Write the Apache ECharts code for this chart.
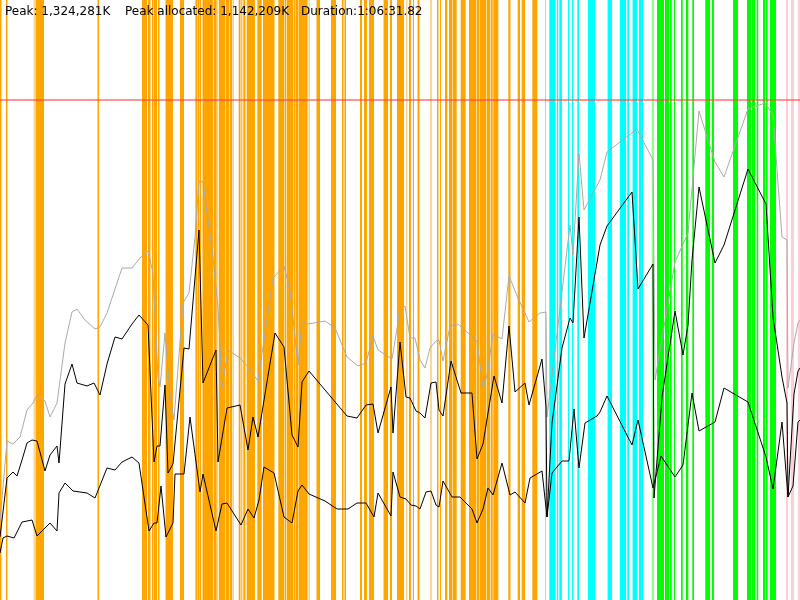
<!DOCTYPE html>
<html>
<head>
<meta charset="utf-8">
<script src="https://cdn.jsdelivr.net/npm/echarts/dist/echarts.min.js"></script>
<style>html,body{margin:0;padding:0;background:#fff}#c{width:800px;height:600px}</style>
</head>
<body>
<div id="c"></div>
<script>
// Header texts
var headerTexts = ["Peak: 1,324,281K", "Peak allocated: 1,142,209K", "Duration:1:06:31.82"];

// Threshold line (memory units of the plot)
var limitValue = 500;

// Event stripes: [start, end] on the time axis (0..800)
var orangeStripes = [[0,1.5],[6,7.5],[36,44],[97.5,99],[142,147],[148,150.5],[152,153.5],[154,157],[158,159.5],[166,173],[180,184],[195.5,197.5],[198,199.5],[200,201],[202.7,213],[213.6,216.7],[219,225],[225.6,229],[229.6,232],[232.7,233.5],[238.7,240.5],[241.3,242.3],[243.3,245.3],[246.7,255],[257.3,261.7],[263,274.5],[278.3,284],[284.6,286],[286.6,293],[293.6,295.5],[296,298],[298.5,307.5],[316.5,320],[331,336],[342,343.5],[344.5,346],[360,362],[364,367],[369,374],[384,388],[390,392],[397,404],[409,411],[413,414],[418,419.5],[437,438.5],[440,441],[445,447.3],[449,452],[452.6,456.7],[460.7,465.7],[469,476],[476.6,479],[479.6,486],[486.6,490],[490.7,492.7],[493.3,498.3],[508.3,510.5],[517.7,520],[521.7,525],[532.3,537.3]];
var lightOrangeStripes = [[33.5,36],[165,166],[195,195.5],[201.8,202.7],[217,218.5],[308.5,310],[383,384],[406,407.5],[417,418],[430,432]];
var cyanStripes = [[545.3,546],[549.3,555.5],[557,558.3],[559.3,562],[568,569],[572,573.3],[577.3,579],[588,595],[608,612],[620,626],[627.3,629],[633,637],[639,643]];
var lightCyanStripes = [[607,608],[632,633]];
var greenStripes = [[657,664],[665,669],[670,671.7],[674,675],[681,682.7],[686,688.3],[692.3,694],[705.3,710],[711.7,714],[733,738],[747,751],[751.6,755],[756.7,758.3],[763,765],[765.7,767.7],[770,776]];
var lightGreenStripes = [[651.7,654]];
var pinkStripes = [[786,788],[791,794],[798,800]];

// Series values: [time, memory]
var grayLine = [[0,78],[7,159],[13,156],[20,163],[27,190],[33,197],[37,205],[45,199],[50,183],[57,197],[65,257],[72,288],[77,291],[85,280],[95,271],[100,273],[107,287],[122,332],[132,332],[140,342],[148,349],[153,327],[158,223],[160,213],[165,267],[170,205],[174,180],[183,297],[189,307],[195,363],[199,419],[203,418],[213,343],[218,293],[222,212],[228,250],[240,242],[248,233],[258,219],[273,322],[284,334],[290,310],[298,235],[302,278],[308,276],[325,279],[335,272],[347,243],[358,234],[366,237],[373,264],[378,250],[392,241],[400,290],[405,294],[410,262],[415,262],[420,240],[425,232],[430,252],[436,259],[439,260],[443,239],[450,274],[458,276],[477,259],[483,212],[487,225],[493,266],[502,261],[509,324],[518,302],[529,278],[540,287],[546,288],[547,183],[570,375],[573,345],[579,447],[584,390],[600,420],[607,448],[637,471],[653,440],[655,220],[675,338],[688,367],[699,489],[715,438],[724,423],[748,491],[765,497],[773,485],[782,363],[787,360],[788,212],[794,257],[798,277],[800,280]];
var upperLine = [[0,63],[7,122],[13,128],[17,124],[22,140],[27,157],[32,160],[37,159],[45,129],[50,145],[57,154],[59,137],[65,216],[72,236],[77,217],[87,214],[94,217],[100,205],[107,236],[115,263],[122,261],[132,276],[139,285],[148,275],[154,138],[157,154],[160,154],[165,215],[168,127],[173,136],[184,252],[189,251],[199,370],[203,217],[216,250],[218,138],[227,192],[240,195],[248,150],[253,183],[258,163],[275,267],[284,253],[292,165],[298,153],[302,218],[309,229],[347,184],[357,182],[366,195],[373,196],[378,167],[391,213],[393,167],[400,258],[406,203],[410,202],[416,189],[420,187],[425,182],[431,217],[436,218],[439,190],[443,184],[451,239],[461,207],[472,207],[477,141],[483,156],[494,224],[502,197],[509,274],[515,208],[525,217],[529,195],[542,241],[546,193],[547,83],[552,177],[562,252],[570,282],[573,277],[579,383],[584,262],[600,355],[607,374],[632,408],[638,311],[653,336],[654,102],[662,203],[675,289],[683,245],[688,275],[692,340],[699,413],[715,337],[724,355],[748,431],[766,396],[773,283],[782,223],[787,197],[788,103],[794,206],[798,229],[800,232]];
var lowerLine = [[0,47],[3,62],[7,64],[14,62],[22,78],[32,80],[37,64],[50,77],[57,69],[59,107],[65,117],[73,109],[87,107],[95,102],[107,132],[115,130],[122,138],[132,143],[139,137],[149,69],[154,77],[157,77],[161,114],[166,63],[173,77],[175,126],[184,126],[190,183],[200,108],[203,126],[216,69],[222,96],[227,97],[241,75],[248,91],[254,82],[259,100],[264,133],[274,127],[284,83],[292,77],[298,109],[302,115],[309,106],[325,99],[337,91],[348,91],[357,97],[366,97],[374,83],[378,107],[391,84],[393,128],[400,103],[406,101],[411,95],[416,94],[420,91],[426,108],[431,109],[436,95],[439,93],[443,119],[452,103],[460,103],[472,91],[477,77],[483,91],[488,112],[493,105],[502,137],[510,105],[515,108],[525,97],[530,122],[542,129],[547,83],[552,127],[562,139],[569,139],[574,191],[579,132],[585,177],[597,184],[600,188],[607,204],[632,155],[638,180],[653,112],[661,144],[675,123],[683,135],[692,207],[699,169],[715,178],[724,212],[748,198],[766,143],[773,111],[782,178],[788,103],[793,114],[798,178],[800,180]];

var X_MAX = 800, Y_MAX = 600;
var headerFont = '12px "DejaVu Sans", Verdana, sans-serif';

function stripeSeries(data, color, opacity) {
  return {
    type: 'custom',
    silent: true,
    z: 1,
    encode: { x: [0, 1] },
    data: data,
    renderItem: function (params, api) {
      var a = api.coord([api.value(0), Y_MAX]);
      var b = api.coord([api.value(1), 0]);
      return { type: 'rect', shape: { x: a[0], y: a[1], width: b[0] - a[0], height: b[1] - a[1] },
               style: { fill: color, opacity: opacity } };
    }
  };
}

var chart = echarts.init(document.getElementById('c'));
chart.setOption({
  animation: false,
  backgroundColor: '#ffffff',
  grid: { left: 0, right: 0, top: 0, bottom: 0 },
  xAxis: { type: 'value', min: 0, max: X_MAX, show: false },
  yAxis: { type: 'value', min: 0, max: Y_MAX, show: false },
  graphic: [
    { type: 'text', left: 5, top: 6, z: 100, style: { text: headerTexts[0], font: headerFont, fill: '#000' } },
    { type: 'text', left: 125, top: 6, z: 100, style: { text: headerTexts[1], font: headerFont, fill: '#000' } },
    { type: 'text', left: 301, top: 6, z: 100, style: { text: headerTexts[2], font: headerFont, fill: '#000' } }
  ],
  series: [
    stripeSeries(orangeStripes, '#ffa500', 1),
    stripeSeries(lightOrangeStripes, '#ffa500', 0.45),
    stripeSeries(cyanStripes, '#00ffff', 1),
    stripeSeries(lightCyanStripes, '#00ffff', 0.45),
    stripeSeries(greenStripes, '#00ff00', 1),
    stripeSeries(lightGreenStripes, '#00ff00', 0.45),
    stripeSeries(pinkStripes, '#ffc0cb', 0.8),
    {
      type: 'line', data: grayLine, showSymbol: false, z: 5, silent: true,
      lineStyle: { color: '#aaaaaa', width: 1 },
      markLine: { silent: true, symbol: 'none', label: { show: false },
        lineStyle: { color: '#ff4040', width: 1.6, type: 'solid', opacity: 0.75 },
        data: [{ yAxis: limitValue }] }
    },
    { type: 'line', data: upperLine, showSymbol: false, z: 6, silent: true, lineStyle: { color: '#000000', width: 1 } },
    { type: 'line', data: lowerLine, showSymbol: false, z: 6, silent: true, lineStyle: { color: '#000000', width: 1 } }
  ]
});
</script>
</body>
</html>
